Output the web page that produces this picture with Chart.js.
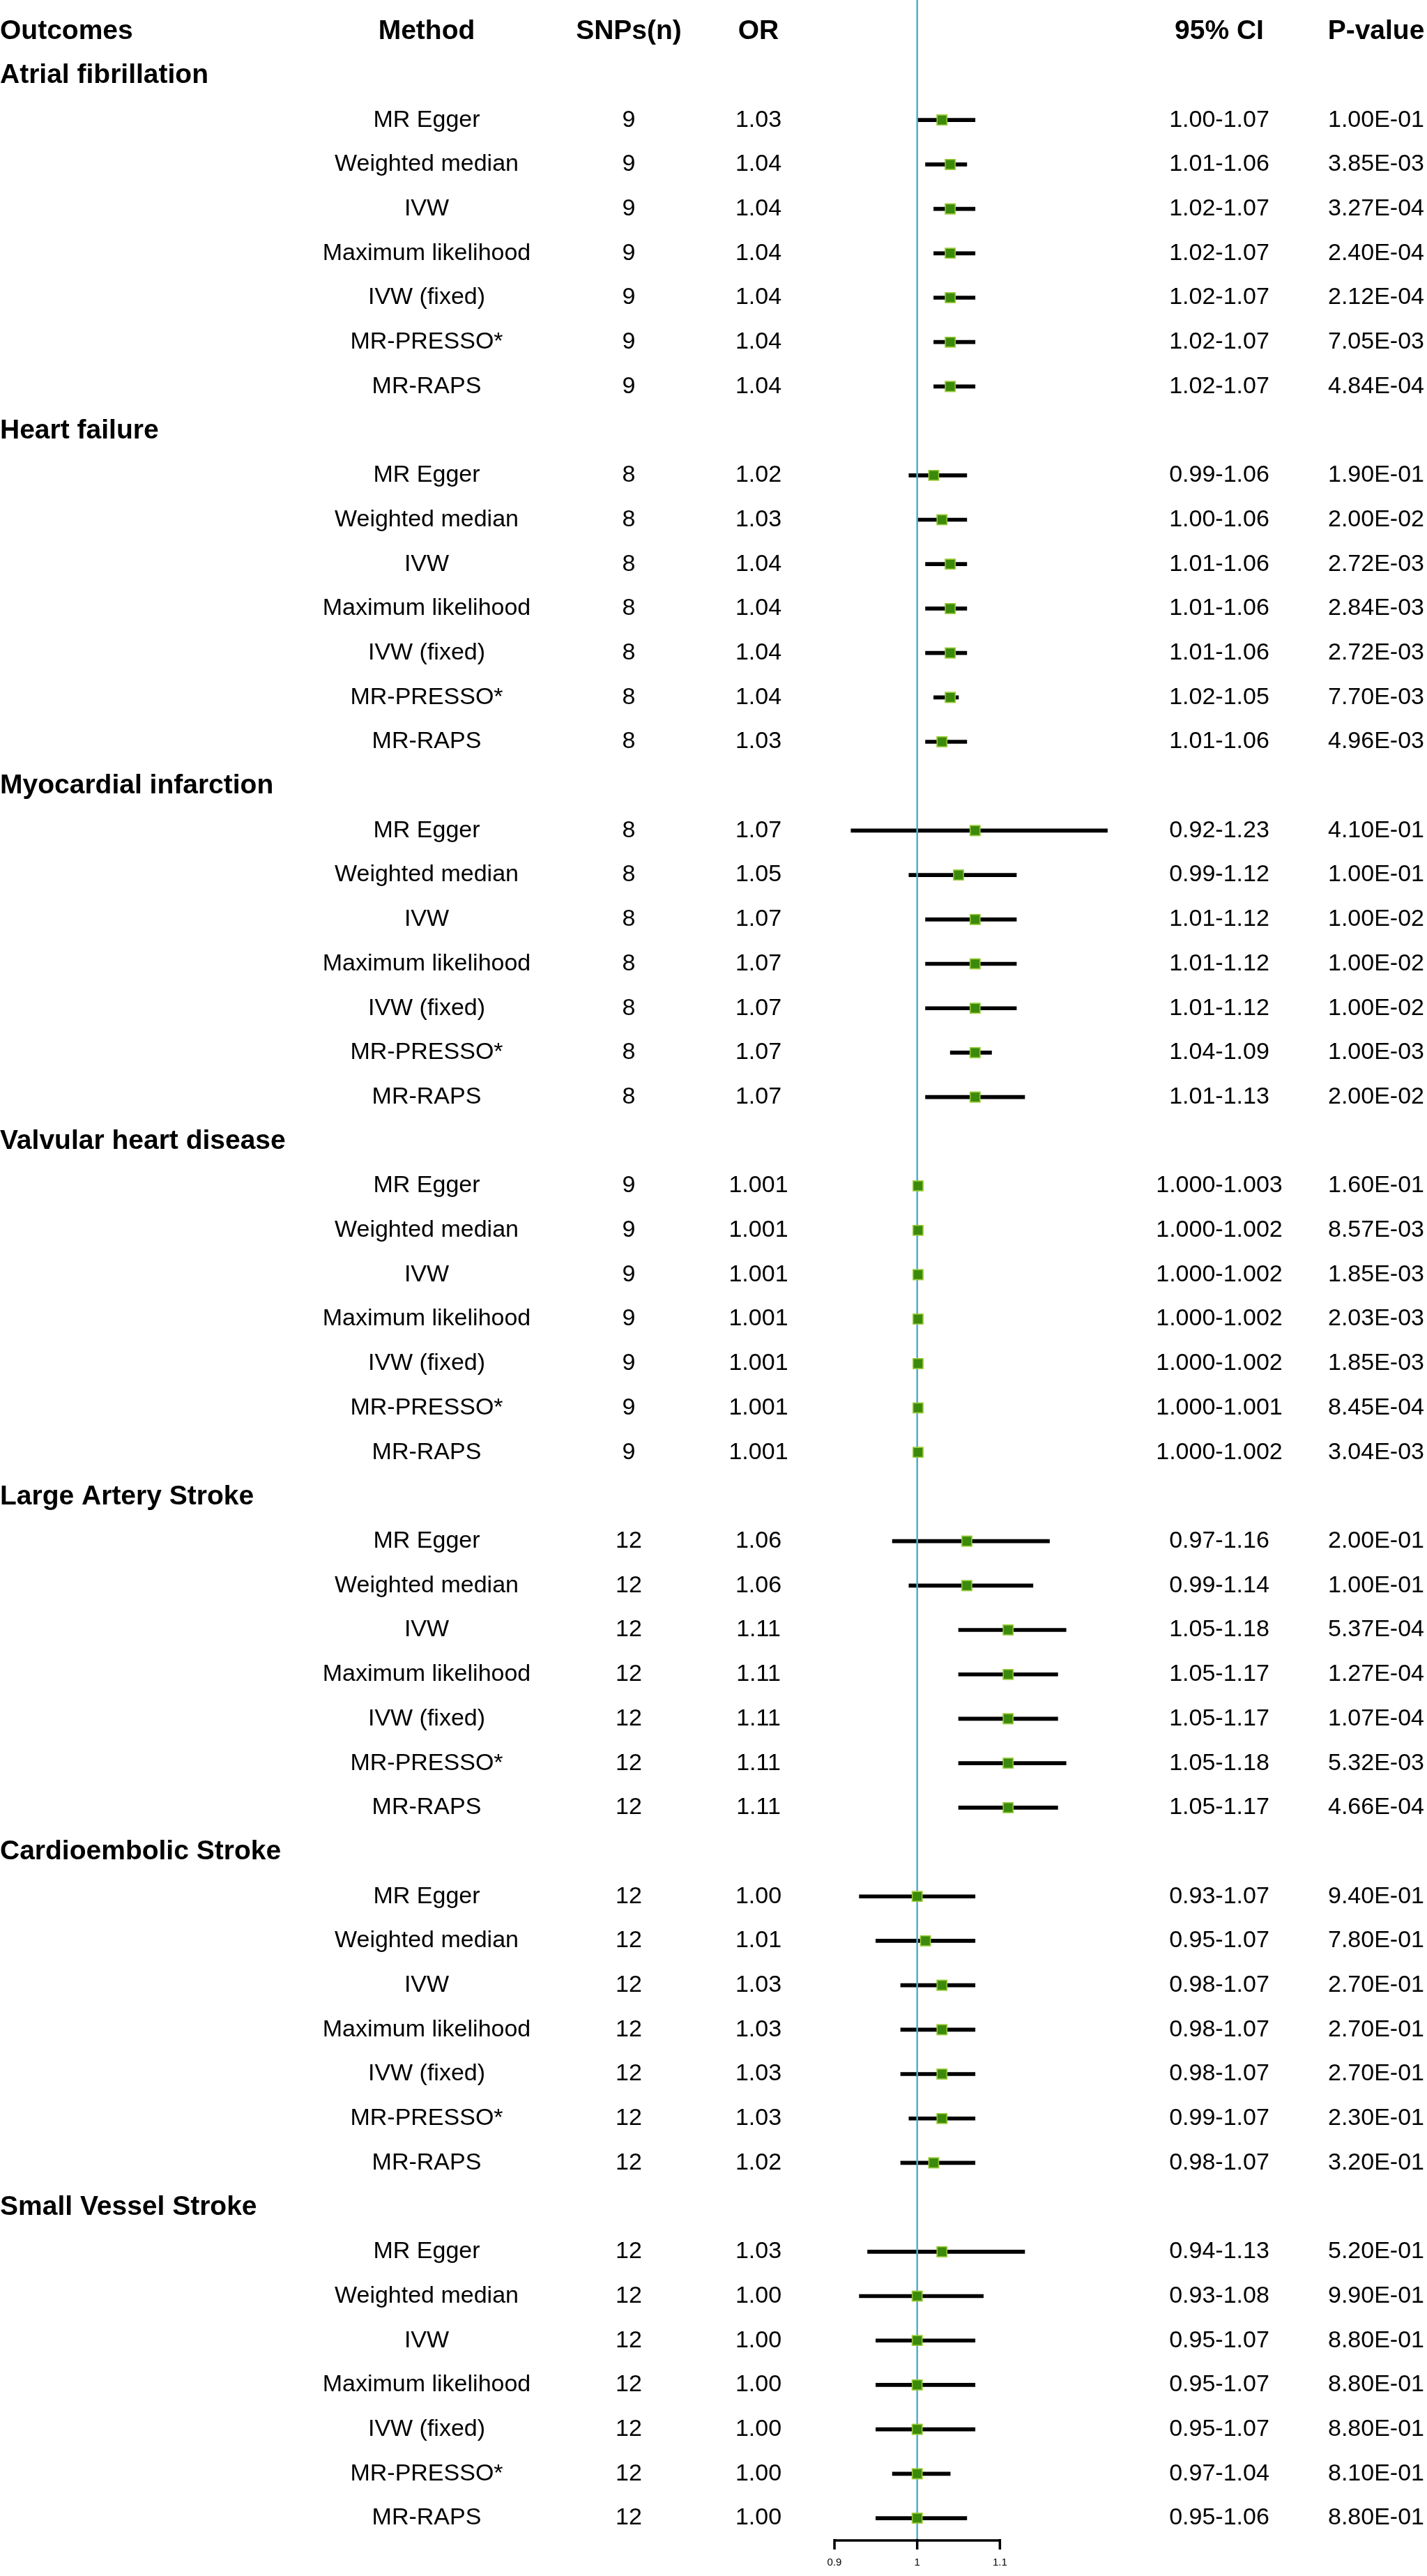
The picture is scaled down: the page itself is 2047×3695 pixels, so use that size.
<!DOCTYPE html>
<html>
<head>
<meta charset="utf-8">
<script src="https://cdn.jsdelivr.net/npm/chart.js@4.4.1/dist/chart.umd.min.js"></script>
<style>
  html, body { margin: 0; padding: 0; background: #fff; }
  #wrap { width: 2047px; height: 3695px; position: relative; }
</style>
</head>
<body>
<div id="wrap"><canvas id="forest"></canvas></div>
<script>
const outcomes = ['Atrial fibrillation', 'Heart failure', 'Myocardial infarction', 'Valvular heart disease',
  'Large Artery Stroke', 'Cardioembolic Stroke', 'Small Vessel Stroke'];
const methods = ['MR Egger', 'Weighted median', 'IVW', 'Maximum likelihood', 'IVW (fixed)', 'MR-PRESSO*', 'MR-RAPS'];
const snpCounts = [9, 8, 8, 9, 12, 12, 12];
const digits = [2, 2, 2, 3, 2, 2, 2];

const orValues = [
  [1.03, 1.04, 1.04, 1.04, 1.04, 1.04, 1.04],
  [1.02, 1.03, 1.04, 1.04, 1.04, 1.04, 1.03],
  [1.07, 1.05, 1.07, 1.07, 1.07, 1.07, 1.07],
  [1.001, 1.001, 1.001, 1.001, 1.001, 1.001, 1.001],
  [1.06, 1.06, 1.11, 1.11, 1.11, 1.11, 1.11],
  [1.00, 1.01, 1.03, 1.03, 1.03, 1.03, 1.02],
  [1.03, 1.00, 1.00, 1.00, 1.00, 1.00, 1.00],
];
const ciLower = [
  [1.00, 1.01, 1.02, 1.02, 1.02, 1.02, 1.02],
  [0.99, 1.00, 1.01, 1.01, 1.01, 1.02, 1.01],
  [0.92, 0.99, 1.01, 1.01, 1.01, 1.04, 1.01],
  [1.000, 1.000, 1.000, 1.000, 1.000, 1.000, 1.000],
  [0.97, 0.99, 1.05, 1.05, 1.05, 1.05, 1.05],
  [0.93, 0.95, 0.98, 0.98, 0.98, 0.99, 0.98],
  [0.94, 0.93, 0.95, 0.95, 0.95, 0.97, 0.95],
];
const ciUpper = [
  [1.07, 1.06, 1.07, 1.07, 1.07, 1.07, 1.07],
  [1.06, 1.06, 1.06, 1.06, 1.06, 1.05, 1.06],
  [1.23, 1.12, 1.12, 1.12, 1.12, 1.09, 1.13],
  [1.003, 1.002, 1.002, 1.002, 1.002, 1.001, 1.002],
  [1.16, 1.14, 1.18, 1.17, 1.17, 1.18, 1.17],
  [1.07, 1.07, 1.07, 1.07, 1.07, 1.07, 1.07],
  [1.13, 1.08, 1.07, 1.07, 1.07, 1.04, 1.06],
];
const pValues = [
  ['1.00E-01', '3.85E-03', '3.27E-04', '2.40E-04', '2.12E-04', '7.05E-03', '4.84E-04'],
  ['1.90E-01', '2.00E-02', '2.72E-03', '2.84E-03', '2.72E-03', '7.70E-03', '4.96E-03'],
  ['4.10E-01', '1.00E-01', '1.00E-02', '1.00E-02', '1.00E-02', '1.00E-03', '2.00E-02'],
  ['1.60E-01', '8.57E-03', '1.85E-03', '2.03E-03', '1.85E-03', '8.45E-04', '3.04E-03'],
  ['2.00E-01', '1.00E-01', '5.37E-04', '1.27E-04', '1.07E-04', '5.32E-03', '4.66E-04'],
  ['9.40E-01', '7.80E-01', '2.70E-01', '2.70E-01', '2.70E-01', '2.30E-01', '3.20E-01'],
  ['5.20E-01', '9.90E-01', '8.80E-01', '8.80E-01', '8.80E-01', '8.10E-01', '8.80E-01'],
];
const headers = ['Outcomes', 'Method', 'SNPs(n)', 'OR', '95% CI', 'P-value'];
const axisTicks = [0.9, 1, 1.1];

// row 0 = header, then each outcome takes a title row + one row per method
const rowOf = (g, m) => 1 + g * (methods.length + 1) + (m < 0 ? 0 : m + 1);
const lastRow = rowOf(outcomes.length - 1, methods.length - 1);

const whiskers = [];
const points = [];
outcomes.forEach((_, g) => {
  methods.forEach((_, m) => {
    whiskers.push({ y: rowOf(g, m), x: [ciLower[g][m], ciUpper[g][m]] });
    points.push({ x: orValues[g][m], y: rowOf(g, m) });
  });
});

const REG = '34px "Liberation Sans", Arial, sans-serif';
const BOLD = 'bold 39px "Liberation Sans", Arial, sans-serif';
const col = { outcome: 0, method: 612, snp: 902, or: 1088, ci: 1749, p: 1974 };

const tablePlugin = {
  id: 'table',
  afterDatasetsDraw(chart) {
    const { ctx, scales: { x, y } } = chart;
    ctx.save();
    // reference line at OR = 1
    ctx.strokeStyle = '#52acc6';
    ctx.lineWidth = 2.5;
    ctx.beginPath();
    ctx.moveTo(x.getPixelForValue(1), 0);
    ctx.lineTo(x.getPixelForValue(1), y.getPixelForValue(lastRow + 0.5));
    ctx.stroke();

    // squares again on top of the line
    const meta = chart.getDatasetMeta(1);
    meta.data.forEach(el => el.draw(ctx, chart.chartArea));

    // bottom axis, only 0.9 - 1.1
    const ay = y.getPixelForValue(lastRow + 0.5);
    ctx.strokeStyle = '#000';
    ctx.lineWidth = 3.5;
    ctx.beginPath();
    ctx.moveTo(x.getPixelForValue(axisTicks[0]), ay);
    ctx.lineTo(x.getPixelForValue(axisTicks[axisTicks.length - 1]), ay);
    axisTicks.forEach(t => {
      ctx.moveTo(x.getPixelForValue(t), ay - 2);
      ctx.lineTo(x.getPixelForValue(t), ay + 13);
    });
    ctx.stroke();
    ctx.fillStyle = '#000';
    ctx.font = '15px "Liberation Sans Narrow", "Liberation Sans", Arial, sans-serif';
    ctx.textAlign = 'center';
    ctx.textBaseline = 'middle';
    axisTicks.forEach(t => ctx.fillText(String(t), x.getPixelForValue(t), ay + 32));

    // header
    const hy = y.getPixelForValue(0);
    ctx.font = BOLD;
    ctx.textAlign = 'left';
    ctx.fillText(headers[0], col.outcome, hy);
    ctx.textAlign = 'center';
    ctx.fillText(headers[1], col.method, hy);
    ctx.fillText(headers[2], col.snp, hy);
    ctx.fillText(headers[3], col.or, hy);
    ctx.fillText(headers[4], col.ci, hy);
    ctx.fillText(headers[5], col.p, hy);

    outcomes.forEach((name, g) => {
      ctx.font = BOLD;
      ctx.textAlign = 'left';
      ctx.fillText(name, col.outcome, y.getPixelForValue(rowOf(g, -1)));
      ctx.font = REG;
      ctx.textAlign = 'center';
      const d = digits[g];
      methods.forEach((mName, m) => {
        const py = y.getPixelForValue(rowOf(g, m));
        ctx.fillText(mName, col.method, py);
        ctx.fillText(String(snpCounts[g]), col.snp, py);
        ctx.fillText(orValues[g][m].toFixed(d), col.or, py);
        ctx.fillText(ciLower[g][m].toFixed(d) + '-' + ciUpper[g][m].toFixed(d), col.ci, py);
        ctx.fillText(pValues[g][m], col.p, py);
      });
    });
    ctx.restore();
  }
};

const W = 2047, H = 3695;
const refX = 1319, pxPerUnit = 1200;
const rowTop = 33.5, rowStep = 64.1;

new Chart(document.getElementById('forest'), {
  type: 'scatter',
  data: {
    datasets: [
      {
        type: 'bar',
        indexAxis: 'y',
        data: whiskers,
        backgroundColor: '#000',
        borderWidth: 0,
        barThickness: 5,
        grouped: false,
      },
      {
        type: 'scatter',
        data: points,
        pointStyle: 'rect',
        pointRadius: 10,
        backgroundColor: '#3b8a0b',
        borderColor: '#9ccc3a',
        borderWidth: 1.5,
      },
    ],
  },
  options: {
    responsive: true,
    maintainAspectRatio: false,
    animation: false,
    layout: { padding: 0 },
    plugins: { legend: { display: false }, tooltip: { enabled: false } },
    scales: {
      x: {
        type: 'linear',
        display: false,
        min: 1 - refX / pxPerUnit,
        max: 1 + (W - refX) / pxPerUnit,
      },
      y: {
        type: 'linear',
        display: false,
        reverse: true,
        offset: false,
        min: -rowTop / rowStep,
        max: (H - rowTop) / rowStep,
      },
    },
  },
  plugins: [tablePlugin],
});
</script>
</body>
</html>
